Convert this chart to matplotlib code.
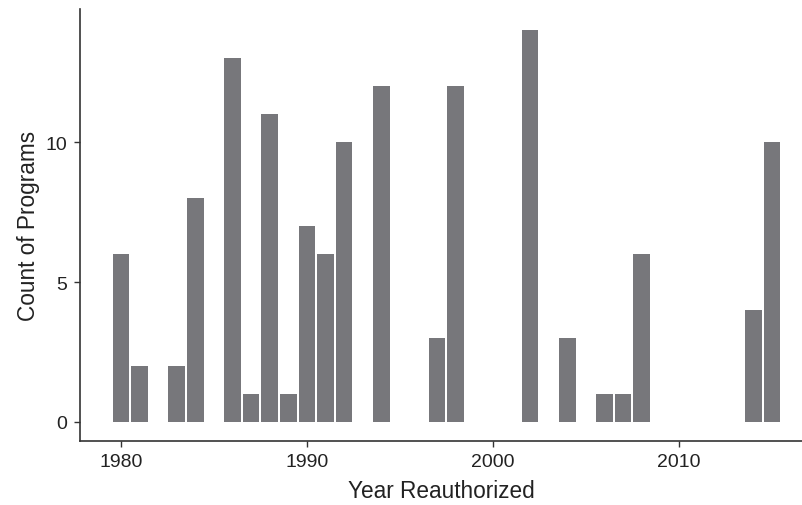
import matplotlib
matplotlib.use("Agg")
import matplotlib.pyplot as plt

years = [1980, 1981, 1983, 1984, 1986, 1987, 1988, 1989, 1990, 1991, 1992,
         1994, 1997, 1998, 2002, 2004, 2006, 2007, 2008, 2014, 2015]
counts = [6, 2, 2, 8, 13, 1, 11, 1, 7, 6, 10,
          12, 3, 12, 14, 3, 1, 1, 6, 4, 10]

x_ticks = [1980, 1990, 2000, 2010]
y_ticks = [0, 5, 10]

plt.rcParams['font.family'] = ['Liberation Sans', 'DejaVu Sans']

fig = plt.figure(figsize=(8.03, 5.06), dpi=100)
ax = fig.add_axes([0.0996, 0.1265, 0.9004, 0.8535])

ax.bar(years, counts, width=0.9, color='#77777b', edgecolor='none')

ax.set_xlim(1977.8, 2016.67)
ax.set_ylim(-0.68, 14.75)
ax.set_xticks(x_ticks)
ax.set_yticks(y_ticks)

for side in ['top', 'right']:
    ax.spines[side].set_visible(False)
for side in ['left', 'bottom']:
    ax.spines[side].set_linewidth(1.2)
    ax.spines[side].set_color('#333333')

ax.tick_params(axis='both', labelsize=14, colors='#333333', labelcolor='#222222',
               length=4, width=1, pad=5)
ax.set_xlabel('Year Reauthorized', fontsize=16.3, color='#222222', labelpad=6)
ax.set_ylabel('Count of Programs', fontsize=16.3, color='#222222', labelpad=4)

fig.savefig('out.png', dpi=100)
